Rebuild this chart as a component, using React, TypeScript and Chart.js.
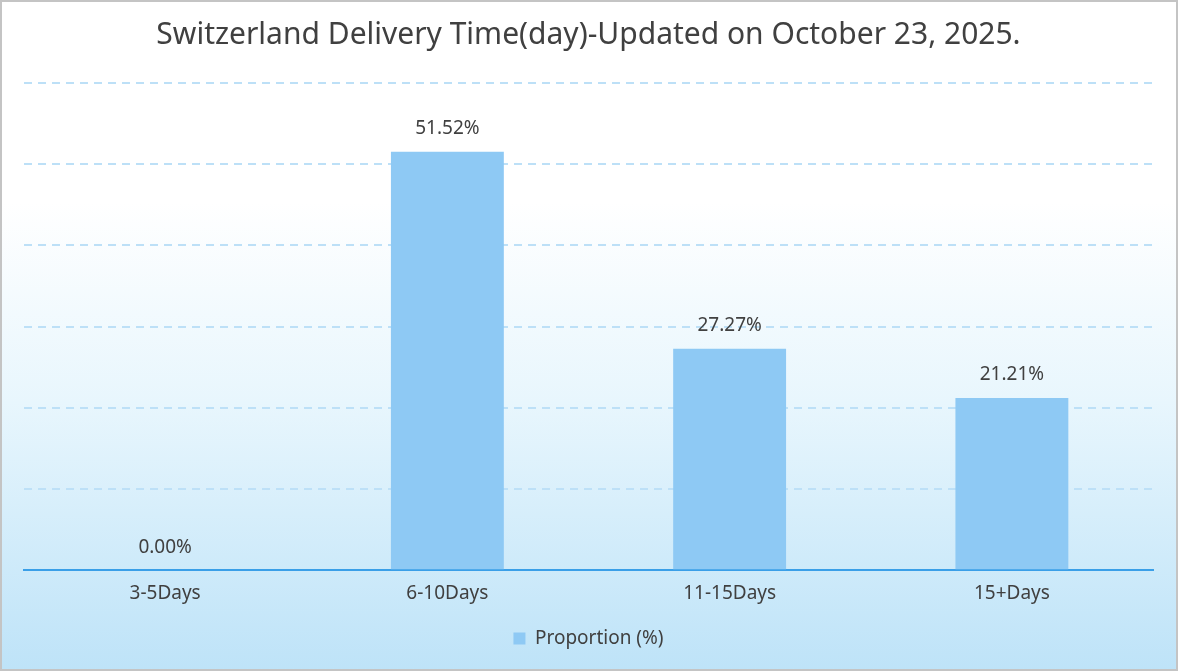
import React, { useEffect, useRef } from "react";
import { Chart, registerables } from "chart.js";

Chart.register(...registerables);

const TITLE = "Switzerland Delivery Time(day)-Updated on October 23, 2025.";
const CATEGORIES = ["3-5Days", "6-10Days", "11-15Days", "15+Days"];
const SERIES_LABEL = "Proportion (%)";
const VALUES = [0.0, 51.52, 27.27, 21.21];
const Y_MAX = 60;
const Y_STEP = 10;

const FONT = "'Noto Sans', 'Open Sans', sans-serif";
const TEXT_COLOR = "#404040";
const BAR_COLOR = "#8ec9f4";

const valueLabels = {
  id: "valueLabels",
  afterDatasetsDraw(chart: any) {
    const ctx = chart.ctx;
    const meta = chart.getDatasetMeta(0);
    ctx.save();
    ctx.font = `19px ${FONT}`;
    ctx.fillStyle = TEXT_COLOR;
    ctx.textAlign = "center";
    ctx.textBaseline = "middle";
    meta.data.forEach((el: any, i: number) => {
      const v = chart.data.datasets[0].data[i] as number;
      ctx.fillText(v.toFixed(2) + "%", el.x, el.y - 23);
    });
    ctx.restore();
  },
};

export default function App() {
  const ref = useRef<HTMLCanvasElement | null>(null);
  useEffect(() => {
    if (!ref.current) return;
    const chart = new Chart(ref.current, {
      type: "bar",
      data: {
        labels: CATEGORIES,
        datasets: [
          {
            label: SERIES_LABEL,
            data: VALUES,
            backgroundColor: BAR_COLOR,
            borderWidth: 0,
            categoryPercentage: 1,
            barPercentage: 0.4,
          },
        ],
      },
      options: {
        responsive: false,
        animation: false,
        layout: { padding: { left: 22, right: 23, top: 0, bottom: 11 } },
        plugins: {
          title: {
            display: true,
            text: TITLE,
            color: TEXT_COLOR,
            font: { family: FONT, size: 30, weight: "normal" },
            padding: { top: 15, bottom: 30 },
          },
          legend: {
            display: true,
            position: "bottom",
            labels: {
              color: TEXT_COLOR,
              font: { family: FONT, size: 19 },
              boxWidth: 12,
              boxHeight: 12,
              padding: 10,
            },
          },
          tooltip: { enabled: false },
        },
        scales: {
          x: {
            grid: { display: false, drawTicks: false },
            border: { display: true, color: "#3a9fe8", width: 2 },
            ticks: {
              color: TEXT_COLOR,
              font: { family: FONT, size: 19 },
              padding: 12,
            },
            afterFit: (scale: any) => {
              scale.height += 2;
            },
          },
          y: {
            min: 0,
            max: Y_MAX,
            ticks: { display: false, stepSize: Y_STEP },
            border: { display: false, dash: [8, 6] },
            grid: {
              drawTicks: false,
              lineWidth: 2,
              color: (c: any) => (c.tick && c.tick.value === 0 ? "rgba(0,0,0,0)" : "#bde0f7"),
            },
          },
        },
      },
      plugins: [valueLabels],
    });
    return () => chart.destroy();
  }, []);

  return (
    <div
      style={{
        position: "fixed",
        left: 0,
        top: 0,
        width: 1178,
        height: 671,
        boxSizing: "border-box",
        border: "2px solid #c4c4c4",
        background:
          "linear-gradient(to bottom, #ffffff 0%, #ffffff 30%, #e8f6fd 60%, #bee3f8 100%)",
      }}
    >
      <canvas ref={ref} width={1174} height={667} style={{ display: "block" }} />
    </div>
  );
}
